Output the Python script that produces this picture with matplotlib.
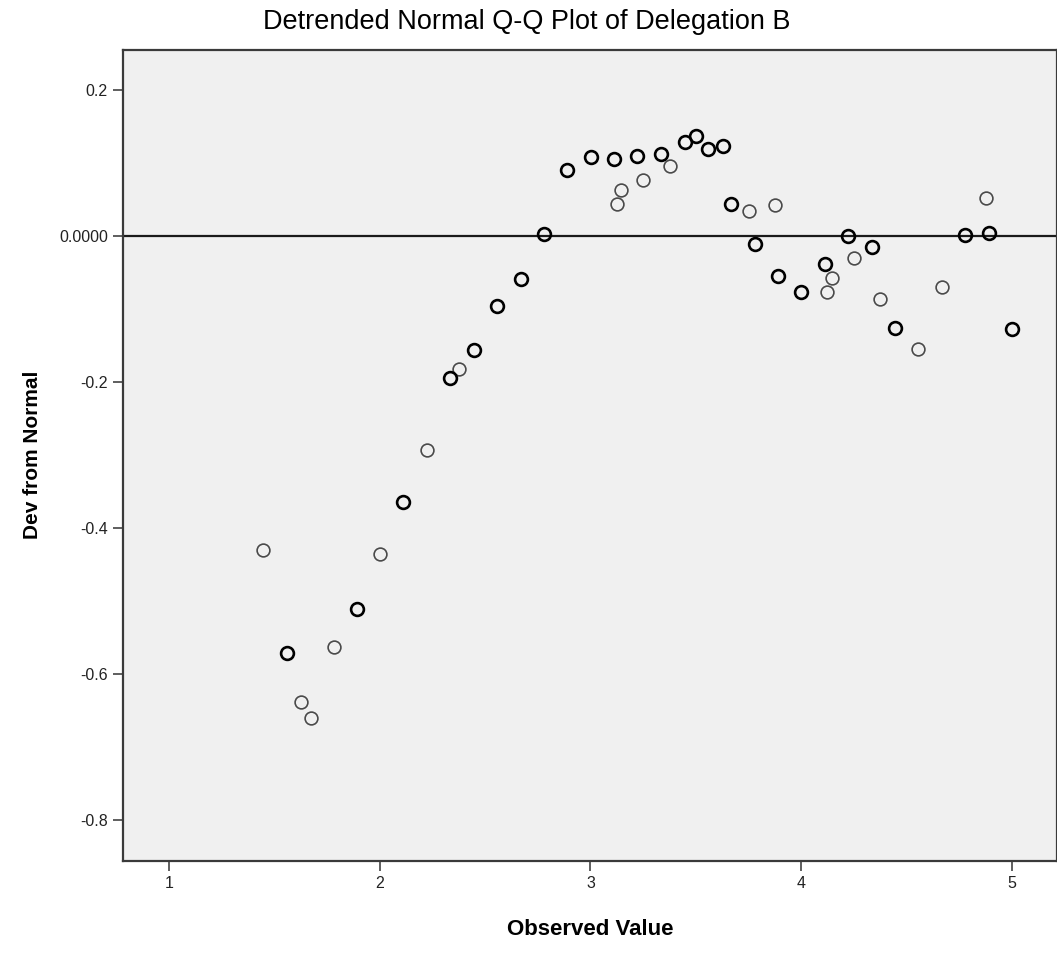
import numpy as np
import matplotlib
matplotlib.use("Agg")
import matplotlib.pyplot as plt

# Detrended normal Q-Q points
observed = [1.446, 1.560, 1.626, 1.674, 1.783, 1.892, 2.001, 2.111, 2.224, 2.334,
            2.376, 2.447, 2.557, 2.671, 2.780, 2.889, 3.003, 3.112, 3.126, 3.145,
            3.221, 3.250, 3.335, 3.378, 3.449, 3.501, 3.558, 3.629, 3.667, 3.753,
            3.781, 3.876, 3.890, 3.999, 4.113, 4.123, 4.146, 4.222, 4.251, 4.336,
            4.374, 4.446, 4.555, 4.669, 4.778, 4.878, 4.892, 5.001]
dev_normal = [-0.430, -0.571, -0.638, -0.660, -0.563, -0.511, -0.436, -0.364, -0.293, -0.195,
              -0.182, -0.156, -0.096, -0.059, 0.003, 0.090, 0.108, 0.105, 0.044, 0.063,
              0.110, 0.077, 0.112, 0.096, 0.129, 0.137, 0.119, 0.123, 0.044, 0.034,
              -0.011, 0.042, -0.055, -0.077, -0.038, -0.077, -0.058, 0.000, -0.030, -0.015,
              -0.086, -0.126, -0.155, -0.070, 0.001, 0.052, 0.004, -0.127]
# 2 = overplotted (drawn darker/heavier), 1 = single case
overlap = [1, 2, 1, 1, 1, 2, 1, 2, 1, 2,
           1, 2, 2, 2, 2, 2, 2, 2, 1, 1,
           2, 1, 2, 1, 2, 2, 2, 2, 2, 1,
           2, 1, 2, 2, 2, 1, 1, 2, 1, 2,
           1, 2, 1, 1, 2, 1, 2, 2]

x_ticks = [1, 2, 3, 4, 5]
y_ticks = [0.2, 0.0, -0.2, -0.4, -0.6, -0.8]
y_tick_labels = ["0.2", "0.0000", "-0.2", "-0.4", "-0.6", "-0.8"]

fonts = ["Liberation Sans", "DejaVu Sans"]

fig = plt.figure(figsize=(10.57, 9.58), dpi=100)
ax = fig.add_axes([0.1164, 0.1013, 0.8836, 0.847])
ax.set_facecolor("#f0f0f0")

ax.axhline(0, color="#1a1a1a", lw=1.6, zorder=2)

obs = np.array(observed)
dev = np.array(dev_normal)
ov = np.array(overlap)
for level, col, lw in [(1, "#4a4a4a", 1.2), (2, "#000000", 1.9)]:
    m = ov == level
    ax.plot(obs[m], dev[m], "o", ms=9.2, mfc="none", mec=col, mew=lw, zorder=3)

ax.set_xlim(0.782, 5.214)
ax.set_ylim(-0.856, 0.2555)
ax.set_xticks(x_ticks)
ax.set_xticklabels([str(t) for t in x_ticks], family=fonts, fontsize=11.5, color="#222222")
ax.set_yticks(y_ticks)
ax.set_yticklabels(y_tick_labels, family=fonts, fontsize=11.5, color="#222222")
ax.tick_params(direction="out", length=7, width=1.1, color="#333333", pad=4)

for s in ax.spines.values():
    s.set_color("#3a3a3a")
    s.set_linewidth(1.6)

ax.set_xlabel("Observed Value", family=fonts, fontsize=16, fontweight="bold", labelpad=20)
ax.set_ylabel("Dev from Normal", family=fonts, fontsize=15, fontweight="bold", labelpad=12)
fig.text(0.498, 0.977, "Detrended Normal Q-Q Plot of Delegation B", family=fonts,
         fontsize=19.5, ha="center", va="center")

fig.savefig("out.png", dpi=100)
